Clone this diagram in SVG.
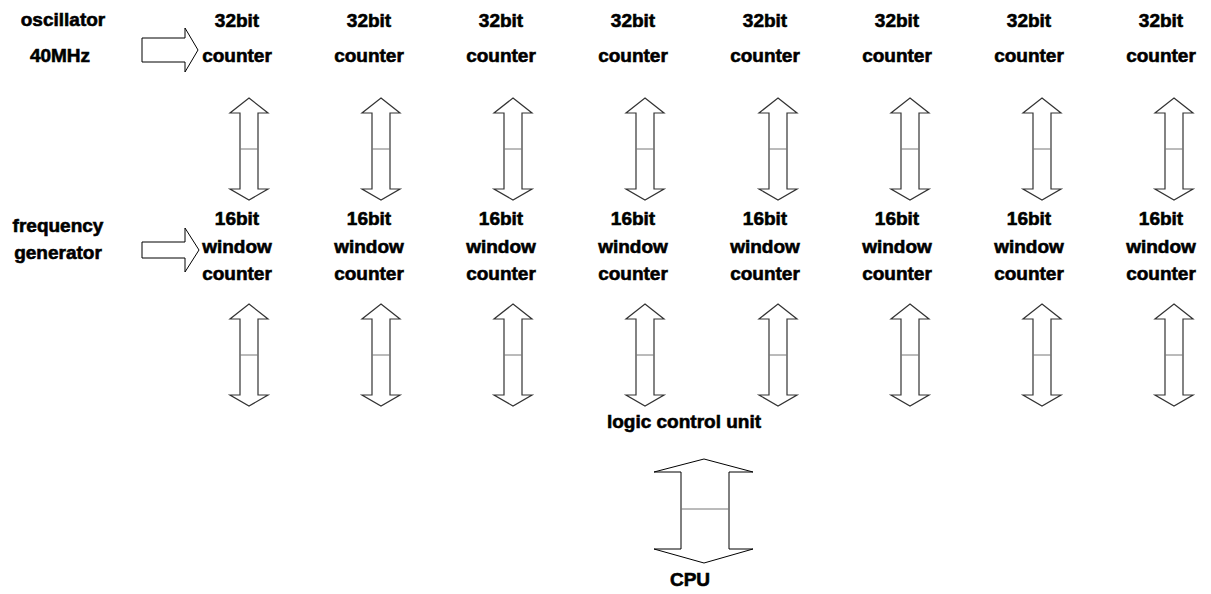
<svg xmlns="http://www.w3.org/2000/svg" width="1211" height="594" viewBox="0 0 1211 594">
  <style>
    text { font-family: "Liberation Sans", Arial, sans-serif; font-weight: bold; font-size: 19px; fill: #000; stroke: #000; stroke-width: 0.6; text-anchor: middle; }
    .arrow { fill: #fff; stroke: #333; stroke-width: 1.2; stroke-linejoin: miter; }
    .bar { stroke: #777; stroke-width: 1; fill: none; }
    .big { fill: #fff; stroke: #000; stroke-width: 1; }
  </style>
  <defs>
    <!-- double-headed bus arrow, 102 tall, tip at y=0 -->
    <g id="bus">
      <path class="arrow" d="M0,0 L19,15 L9,15 L9,91 L19,91 L0,102 L-19,91 L-9,91 L-9,15 L-19,15 Z"/>
      <path class="bar" d="M-9,51 H9"/>
    </g>
  </defs>
  <rect width="1211" height="594" fill="#fff"/>

  <!-- input sources -->
  <g id="oscillator">
    <text x="63" y="26">oscillator</text>
    <text x="60" y="62">40MHz</text>
  </g>
  <g id="frequency-generator">
    <text x="58" y="232">frequency</text>
    <text x="58" y="259">generator</text>
  </g>

  <!-- 32bit counters -->
  <g id="counter-1"><text x="237" y="27">32bit</text><text x="237" y="62">counter</text></g>
  <g id="counter-2"><text x="369" y="27">32bit</text><text x="369" y="62">counter</text></g>
  <g id="counter-3"><text x="501" y="27">32bit</text><text x="501" y="62">counter</text></g>
  <g id="counter-4"><text x="633" y="27">32bit</text><text x="633" y="62">counter</text></g>
  <g id="counter-5"><text x="765" y="27">32bit</text><text x="765" y="62">counter</text></g>
  <g id="counter-6"><text x="897" y="27">32bit</text><text x="897" y="62">counter</text></g>
  <g id="counter-7"><text x="1029" y="27">32bit</text><text x="1029" y="62">counter</text></g>
  <g id="counter-8"><text x="1161" y="27">32bit</text><text x="1161" y="62">counter</text></g>

  <!-- 16bit window counters -->
  <g id="window-1"><text x="237" y="225">16bit</text><text x="237" y="253">window</text><text x="237" y="280">counter</text></g>
  <g id="window-2"><text x="369" y="225">16bit</text><text x="369" y="253">window</text><text x="369" y="280">counter</text></g>
  <g id="window-3"><text x="501" y="225">16bit</text><text x="501" y="253">window</text><text x="501" y="280">counter</text></g>
  <g id="window-4"><text x="633" y="225">16bit</text><text x="633" y="253">window</text><text x="633" y="280">counter</text></g>
  <g id="window-5"><text x="765" y="225">16bit</text><text x="765" y="253">window</text><text x="765" y="280">counter</text></g>
  <g id="window-6"><text x="897" y="225">16bit</text><text x="897" y="253">window</text><text x="897" y="280">counter</text></g>
  <g id="window-7"><text x="1029" y="225">16bit</text><text x="1029" y="253">window</text><text x="1029" y="280">counter</text></g>
  <g id="window-8"><text x="1161" y="225">16bit</text><text x="1161" y="253">window</text><text x="1161" y="280">counter</text></g>

  <g id="logic-control-unit"><text x="684" y="428">logic control unit</text></g>
  <g id="cpu"><text x="690" y="586">CPU</text></g>

  <!-- connectors -->
  <g id="connectors">
    <!-- clock inputs -->
    <path class="big" d="M142,38 H185 V28 L198,50 L185,72 V62 H142 Z"/>
    <path class="big" d="M142,242 H185 V228 L199,250 L185,272 V258 H142 Z"/>

    <!-- counter to window counter buses -->
    <use href="#bus" x="249" y="98"/>
    <use href="#bus" x="381" y="98"/>
    <use href="#bus" x="513" y="98"/>
    <use href="#bus" x="645" y="98"/>
    <use href="#bus" x="778" y="98"/>
    <use href="#bus" x="910" y="98"/>
    <use href="#bus" x="1042" y="98"/>
    <use href="#bus" x="1174" y="98"/>

    <!-- window counter to logic control unit buses -->
    <use href="#bus" x="249" y="304"/>
    <use href="#bus" x="381" y="304"/>
    <use href="#bus" x="513" y="304"/>
    <use href="#bus" x="645" y="304"/>
    <use href="#bus" x="778" y="304"/>
    <use href="#bus" x="910" y="304"/>
    <use href="#bus" x="1042" y="304"/>
    <use href="#bus" x="1174" y="304"/>

    <!-- logic control unit to CPU bus -->
    <path class="big" d="M704,459 L753,472 L729,472 L729,549 L753,549 L704,563 L654,549 L681,549 L681,472 L654,472 Z"/>
    <path class="bar" d="M681,509 H729" stroke="#444"/>
  </g>
</svg>
